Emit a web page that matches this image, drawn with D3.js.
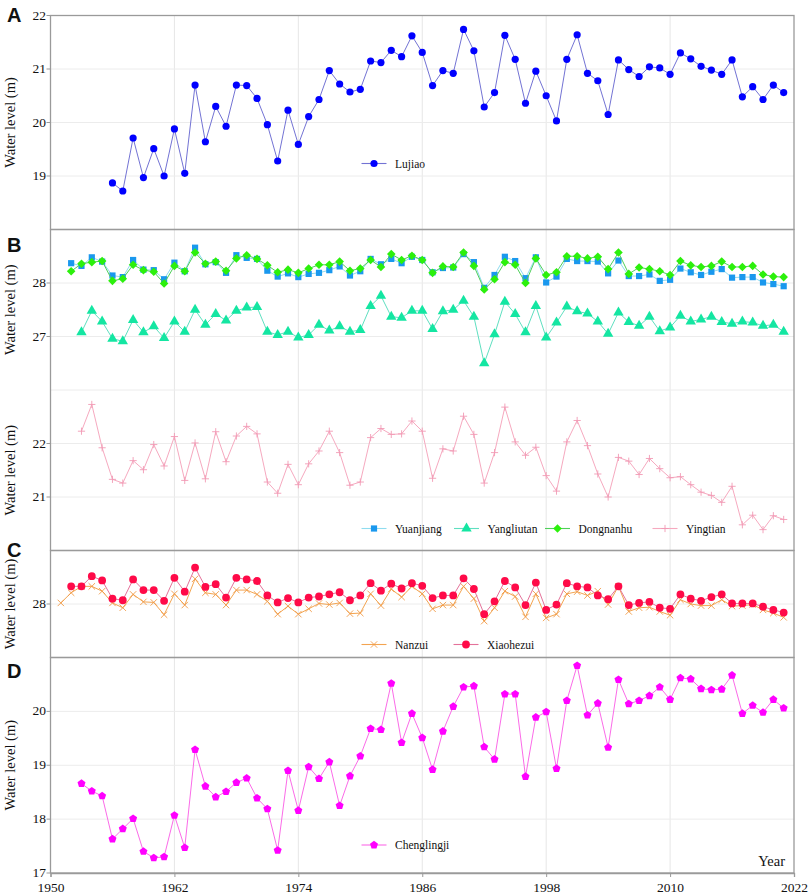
<!DOCTYPE html>
<html>
<head>
<meta charset="utf-8">
<script src="https://cdn.jsdelivr.net/npm/d3@7"></script>
<style>
  body { margin: 0; background: #fff; }
  text { font-family: "Liberation Serif", "DejaVu Serif", serif; fill: #111; }
  .tick-label { font-size: 13.5px; }
  .axis-title { font-size: 14.5px; }
  .legend-text { font-size: 11.5px; }
  .panel-letter { font-family: "Liberation Sans", Arial, sans-serif; font-weight: bold; font-size: 20px; }
</style>
</head>
<body>
<div id="chart"></div>
<script>
// -----------------------------------------//
//                 Data
// -----------------------------------------//

// annual water levels (m), one value per year from the start year to 2021
var lujiaoStart = 1956;
var lujiao = [18.87, 18.72, 19.71, 18.97, 19.51, 19.00, 19.88, 19.05, 20.70, 19.64,
  20.30, 19.93, 20.70, 20.69, 20.45, 19.96, 19.28, 20.23, 19.59, 20.11,
  20.43, 20.97, 20.72, 20.57, 20.62, 21.15, 21.12, 21.35, 21.23, 21.62,
  21.31, 20.69, 20.97, 20.92, 21.74, 21.34, 20.29, 20.56, 21.63, 21.18,
  20.36, 20.96, 20.50, 20.03, 21.18, 21.64, 20.92, 20.78, 20.15, 21.17,
  20.99, 20.86, 21.04, 21.02, 20.90, 21.30, 21.19, 21.05, 20.98, 20.90,
  21.17, 20.48, 20.67, 20.43, 20.70, 20.56];

var yuanjiangStart = 1952;
var yuanjiang = [28.37, 28.32, 28.48, 28.40, 28.14, 28.11, 28.43, 28.25, 28.24, 28.07,
  28.38, 28.22, 28.66, 28.35, 28.39, 28.19, 28.52, 28.47, 28.45, 28.23,
  28.12, 28.18, 28.11, 28.17, 28.19, 28.24, 28.31, 28.14, 28.22, 28.45,
  28.35, 28.45, 28.37, 28.49,
  28.43, 28.20, 28.28, 28.29, 28.54, 28.39, 27.91, 28.15, 28.49, 28.41,
  28.09, 28.48, 28.01, 28.12, 28.45, 28.41, 28.41, 28.40, 28.18, 28.42,
  28.13, 28.13, 28.16, 28.04, 28.06, 28.27, 28.20, 28.15, 28.21, 28.26,
  28.10, 28.11, 28.11, 28.01, 27.98, 27.94];

var yangliutanStart = 1953;
var yangliutan = [27.08, 27.48, 27.28, 26.96, 26.91, 27.31, 27.08, 27.19, 26.97, 27.28,
  27.09, 27.50, 27.22, 27.42, 27.30, 27.48, 27.54, 27.55, 27.09, 27.03,
  27.09, 26.98, 27.03, 27.22, 27.11, 27.19, 27.09, 27.12, 27.57, 27.76,
  27.37, 27.35, 27.48,
  27.48, 27.14, 27.47, 27.50, 27.67, 27.37, 26.50, 27.04, 27.65, 27.42,
  27.08, 27.57, 26.98, 27.26, 27.56, 27.47, 27.43, 27.28, 27.05, 27.45,
  27.27, 27.20, 27.37, 27.10, 27.17, 27.39, 27.28, 27.32, 27.37, 27.27,
  27.24, 27.28, 27.26, 27.20, 27.22, 27.09];

var dongnanhuStart = 1952;
var dongnanhu = [28.22, 28.36, 28.39, 28.41, 28.04, 28.08, 28.34, 28.24, 28.21, 27.99,
  28.32, 28.22, 28.57, 28.36, 28.40, 28.23, 28.46, 28.52, 28.45, 28.33,
  28.20, 28.25, 28.19, 28.27, 28.34, 28.34, 28.40, 28.23, 28.27, 28.43,
  28.30, 28.54, 28.43, 28.51,
  28.43, 28.19, 28.31, 28.30, 28.57, 28.32, 27.88, 28.07, 28.39, 28.34,
  28.00, 28.46, 28.15, 28.20, 28.50, 28.50, 28.46, 28.49, 28.26, 28.57,
  28.17, 28.29, 28.26, 28.22, 28.15, 28.41, 28.33, 28.30, 28.32, 28.40,
  28.30, 28.30, 28.32, 28.16, 28.12, 28.11];

var yingtianStart = 1953;
var yingtian = [22.23, 22.73, 21.92, 21.33, 21.26, 21.68, 21.51, 21.98, 21.58, 22.13,
  21.31, 22.01, 21.34, 22.22, 21.66, 22.14, 22.32, 22.18, 21.28, 21.07,
  21.61, 21.23, 21.62, 21.86, 22.23, 21.83, 21.22, 21.28, 22.11, 22.28,
  22.17, 22.18, 22.42,
  22.23, 21.35, 21.90, 21.86, 22.51, 22.17, 21.26, 21.83, 22.68, 22.03,
  21.78, 21.93, 21.40, 21.11, 22.03, 22.43, 21.96, 21.43, 21.00, 21.74,
  21.67, 21.42, 21.72, 21.53, 21.36, 21.38, 21.23, 21.09, 21.03, 20.90,
  21.20, 20.48, 20.66, 20.39, 20.65, 20.58];

var nanzuiStart = 1951;
var nanzui = [28.02, 28.21, 28.33, 28.33, 28.24, 28.02, 27.93, 28.18, 28.04, 28.03,
  27.80, 28.19, 27.98, 28.47, 28.21, 28.18, 27.98, 28.26, 28.26, 28.18,
  28.05, 27.81, 27.96, 27.81, 27.91, 28.01, 27.99, 28.02, 27.82, 27.83,
  28.19, 27.97, 28.28, 28.13, 28.33,
  28.19, 27.91, 27.98, 27.98, 28.33, 28.10, 27.68, 27.93, 28.24, 28.14,
  27.76, 28.19, 27.74, 27.81, 28.19, 28.23, 28.16, 28.24, 27.99, 28.33,
  27.86, 27.93, 27.94, 27.86, 27.79, 28.08, 28.00, 27.97, 27.97, 28.08,
  27.96, 27.97, 27.99, 27.89, 27.83, 27.75];

var xiaohezuiStart = 1952;
var xiaohezui = [28.33, 28.33, 28.52, 28.44, 28.10, 28.07, 28.46, 28.26, 28.26, 28.06,
  28.49, 28.23, 28.68, 28.32, 28.37, 28.12, 28.49, 28.46, 28.43, 28.16,
  28.03, 28.11, 28.03, 28.12, 28.14, 28.18, 28.22, 28.07, 28.16, 28.39,
  28.25, 28.38, 28.29, 28.39,
  28.34, 28.11, 28.16, 28.16, 28.48, 28.28, 27.81, 28.05, 28.43, 28.31,
  27.98, 28.40, 27.89, 27.99, 28.39, 28.33, 28.31, 28.16, 28.09, 28.33,
  27.98, 28.02, 28.04, 27.93, 27.91, 28.18, 28.10, 28.06, 28.13, 28.18,
  28.01, 28.01, 28.01, 27.95, 27.89, 27.84];

var chenglingjiStart = 1953;
var chenglingji = [18.66, 18.52, 18.43, 17.63, 17.82, 18.01, 17.40, 17.28, 17.30, 18.07,
  17.47, 19.29, 18.61, 18.41, 18.51, 18.68, 18.76, 18.39, 18.19, 17.42,
  18.90, 18.16, 18.97, 18.75, 19.06, 18.25, 18.80, 19.17, 19.68, 19.66,
  20.52, 19.42, 19.96,
  19.51, 18.92, 19.63, 20.09, 20.45, 20.47, 19.34, 19.11, 20.32, 20.32,
  18.79, 19.89, 19.99, 18.94, 20.20, 20.85, 19.93, 20.15, 19.33, 20.59,
  20.14, 20.20, 20.29, 20.45, 20.22, 20.62, 20.60, 20.42, 20.40, 20.41,
  20.67, 19.96, 20.11, 19.98, 20.22, 20.06];

var yearTicks = [1950, 1962, 1974, 1986, 1998, 2010, 2022];

// -----------------------------------------//
//               SVG setup
// -----------------------------------------//

var svgWidth = 809;
var svgHeight = 895;

var svg = d3.select("#chart")
  .append("svg")
  .attr("width", svgWidth)
  .attr("height", svgHeight);

var xScale = d3.scaleLinear()
  .domain([1950, 2022])
  .range([50.5, 794]);

// turn a value array + start year into points
function toPoints(values, start) {
  return values.map(function(v, i) { return { year: start + i, value: v }; });
}

// marker shapes, r is roughly the half width
var shapes = {
  circle: function(r) { return d3.symbol(d3.symbolCircle, Math.PI * r * r)(); },
  square: function(r) { return "M" + (-r) + "," + (-r) + "H" + r + "V" + r + "H" + (-r) + "Z"; },
  diamond: function(r) { return "M0," + (-r) + "L" + r + ",0L0," + r + "L" + (-r) + ",0Z"; },
  triangle: function(r) { return d3.symbol(d3.symbolTriangle, r * r * 1.732)(); },
  plus: function(r) { return "M" + (-r) + ",0H" + r + "M0," + (-r) + "V" + r; },
  cross: function(r) { return "M" + (-r) + "," + (-r) + "L" + r + "," + r + "M" + (-r) + "," + r + "L" + r + "," + (-r); },
  pentagon: function(r) {
    var pts = d3.range(5).map(function(k) {
      var a = -Math.PI / 2 + k * 2 * Math.PI / 5;
      return [r * Math.cos(a), r * Math.sin(a)];
    });
    return "M" + pts.join("L") + "Z";
  }
};

// -----------------------------------------//
//               Panels
// -----------------------------------------//

var panels = [
  { top: 15.5, bottom: 229.5, domain: [18, 22], ticks: [19, 20, 21, 22], grid: [19, 20, 21] },
  { top: 229.5, bottom: 390, domain: [26, 29], ticks: [27, 28], grid: [27, 28] },
  { top: 390, bottom: 550.5, domain: [20, 23], ticks: [21, 22], grid: [21, 22, 23] },
  { top: 550.5, bottom: 657.5, domain: [27, 29], ticks: [28], grid: [28] },
  { top: 657.5, bottom: 873, domain: [17, 21], ticks: [17, 18, 19, 20], grid: [18, 19, 20] }
];

panels.forEach(function(p) {
  p.y = d3.scaleLinear().domain(p.domain).range([p.bottom, p.top]);
  var g = svg.append("g");

  // vertical grid
  g.selectAll(".vgrid")
    .data(yearTicks.slice(1, -1))
    .enter()
    .append("line")
    .attr("x1", d => xScale(d))
    .attr("x2", d => xScale(d))
    .attr("y1", p.top)
    .attr("y2", p.bottom)
    .attr("stroke", "#e6e6e6")
    .attr("stroke-width", 1);

  // horizontal grid
  g.selectAll(".hgrid")
    .data(p.grid)
    .enter()
    .append("line")
    .attr("x1", xScale.range()[0])
    .attr("x2", xScale.range()[1])
    .attr("y1", d => p.y(d))
    .attr("y2", d => p.y(d))
    .attr("stroke", "#ececec")
    .attr("stroke-width", 1);

  // y tick marks and labels
  g.selectAll(".ytick")
    .data(p.ticks)
    .enter()
    .append("line")
    .attr("x1", xScale.range()[0] - 4)
    .attr("x2", xScale.range()[0])
    .attr("y1", d => p.y(d))
    .attr("y2", d => p.y(d))
    .attr("stroke", "#999");

  g.selectAll(".ylabel")
    .data(p.ticks)
    .enter()
    .append("text")
    .classed("tick-label", true)
    .attr("x", 46)
    .attr("y", d => p.y(d))
    .attr("dy", "0.3em")
    .attr("text-anchor", "end")
    .text(d => d);

  // axis title
  g.append("text")
    .classed("axis-title", true)
    .attr("transform", "translate(15," + ((p.top + p.bottom) / 2) + ") rotate(-90)")
    .attr("text-anchor", "middle")
    .text("Water level (m)");
});

// panel frames (B is drawn as one frame over both halves)
var frames = [[15.5, 229.5], [229.5, 550.5], [550.5, 657.5], [657.5, 873]];
svg.selectAll(".frame")
  .data(frames)
  .enter()
  .append("rect")
  .attr("x", xScale.range()[0])
  .attr("y", d => d[0])
  .attr("width", xScale.range()[1] - xScale.range()[0])
  .attr("height", d => d[1] - d[0])
  .attr("fill", "none")
  .attr("stroke", "#9a9a9a")
  .attr("stroke-width", 1.3);

// bottom x axis
var bottomAxis = d3.axisBottom(xScale)
  .tickValues(yearTicks)
  .tickFormat(d3.format("d"))
  .tickSize(4);

var xAxis = svg.append("g")
  .attr("transform", "translate(0,873)")
  .call(bottomAxis);
xAxis.select(".domain").attr("stroke", "#9a9a9a").attr("stroke-width", 1.3);
xAxis.selectAll(".tick line").attr("stroke", "#999");
xAxis.selectAll(".tick text")
  .attr("class", "tick-label")
  .attr("y", 9.5)
  .style("font-family", "'Liberation Serif', serif")
  .style("font-size", "13.5px");

svg.append("text")
  .classed("axis-title", true)
  .attr("x", 785)
  .attr("y", 866)
  .attr("text-anchor", "end")
  .text("Year");

// panel letters
var letters = [["A", 22], ["B", 252], ["C", 557], ["D", 678]];
svg.selectAll(".letter")
  .data(letters)
  .enter()
  .append("text")
  .classed("panel-letter", true)
  .attr("x", 7)
  .attr("y", d => d[1])
  .text(d => d[0]);

// -----------------------------------------//
//               Series
// -----------------------------------------//

var series = [
  { name: "Lujiao", values: lujiao, start: lujiaoStart, panel: 0, line: "#7373d4", fill: "#0000ff", shape: "circle", r: 3.6 },
  { name: "Yuanjiang", values: yuanjiang, start: yuanjiangStart, panel: 1, line: "#8fdcef", fill: "#1a98ee", shape: "square", r: 3.1 },
  { name: "Yangliutan", values: yangliutan, start: yangliutanStart, panel: 1, line: "#5fdfc0", fill: "#14e6a2", shape: "triangle", r: 5.2 },
  { name: "Dongnanhu", values: dongnanhu, start: dongnanhuStart, panel: 1, line: "#4fcf5a", fill: "#2cf00c", shape: "diamond", r: 4.3 },
  { name: "Yingtian", values: yingtian, start: yingtianStart, panel: 2, line: "#f6a9bf", fill: "none", stroke: "#f29ab4", shape: "plus", r: 3.6 },
  { name: "Nanzui", values: nanzui, start: nanzuiStart, panel: 3, line: "#f3a450", fill: "none", stroke: "#f09a45", shape: "cross", r: 3.2 },
  { name: "Xiaohezui", values: xiaohezui, start: xiaohezuiStart, panel: 3, line: "#e4729a", fill: "#ff0a48", shape: "circle", r: 3.9 },
  { name: "Chenglingji", values: chenglingji, start: chenglingjiStart, panel: 4, line: "#fb6be8", fill: "#ff00ff", shape: "pentagon", r: 4.2 }
];

function drawMarker(sel, s) {
  sel.attr("d", shapes[s.shape](s.r))
    .attr("fill", s.fill)
    .attr("stroke", s.stroke || "none")
    .attr("stroke-width", s.stroke ? 0.9 : 0);
}

series.forEach(function(s) {
  var p = panels[s.panel];
  var data = toPoints(s.values, s.start);
  var line = d3.line()
    .x(d => xScale(d.year))
    .y(d => p.y(d.value));

  var g = svg.append("g");
  g.append("path")
    .datum(data)
    .attr("d", line)
    .attr("fill", "none")
    .attr("stroke", s.line)
    .attr("stroke-width", 1);

  g.selectAll("path.marker")
    .data(data)
    .enter()
    .append("path")
    .classed("marker", true)
    .attr("transform", d => "translate(" + xScale(d.year) + "," + p.y(d.value) + ")")
    .call(drawMarker, s);
});

// -----------------------------------------//
//               Legends
// -----------------------------------------//

var legends = [
  { y: 163.5, items: [["Lujiao", 374]] },
  { y: 528.5, items: [["Yuanjiang", 374], ["Yangliutan", 466.5], ["Dongnanhu", 557.5], ["Yingtian", 665]] },
  { y: 644.5, items: [["Nanzui", 374], ["Xiaohezui", 466]] },
  { y: 845, items: [["Chenglingji", 374]] }
];

legends.forEach(function(lg) {
  lg.items.forEach(function(it) {
    var s = series.find(d => d.name === it[0]);
    var g = svg.append("g").attr("transform", "translate(" + it[1] + "," + lg.y + ")");
    g.append("line")
      .attr("x1", -12.5).attr("x2", 12.5)
      .attr("stroke", s.line)
      .attr("stroke-width", 1.1);
    g.append("path").call(drawMarker, s);
    g.append("text")
      .classed("legend-text", true)
      .attr("x", 21)
      .attr("dy", "0.35em")
      .text(s.name);
  });
});
</script>
</body>
</html>
